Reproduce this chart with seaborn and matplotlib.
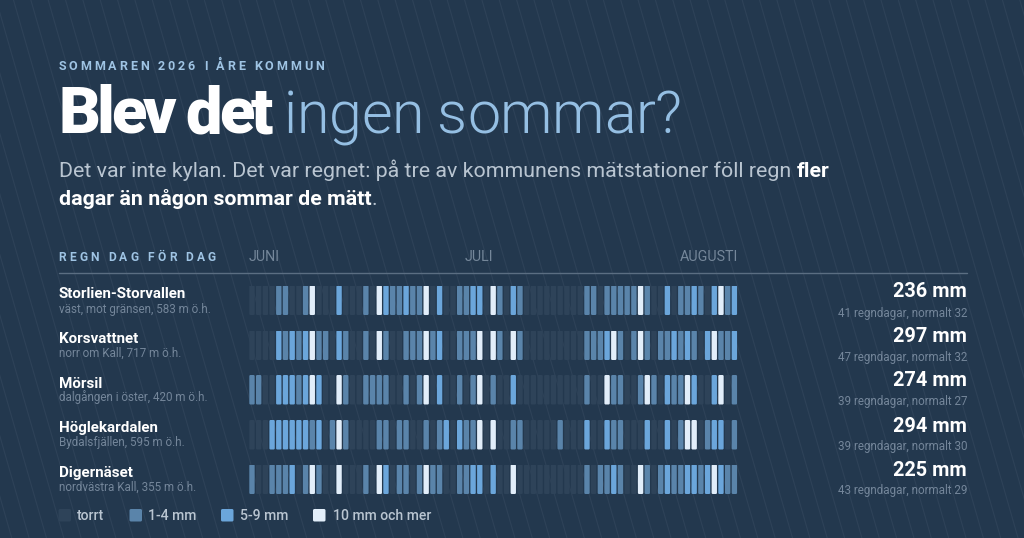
import seaborn as sns
import matplotlib.pyplot as plt
import pandas as pd
from matplotlib.patches import FancyBboxPatch

# regndagar per station, index = kolumn i rutnätet
stationer = ["Storlien-Storvallen", "Korsvattnet", "Mörsil", "Höglekardalen", "Digernäset"]
platser = ["väst, mot gränsen, 583 m ö.h.", "norr om Kall, 717 m ö.h.", "dalgången i öster, 420 m ö.h.",
           "Bydalsfjällen, 595 m ö.h.", "nordvästra Kall, 355 m ö.h."]
mm_totalt = [236, 297, 274, 294, 225]
regndagar = [41, 47, 39, 39, 43]
normalt = [32, 32, 27, 30, 29]
antal_dagar = 73

storlien_1_4 = [4, 5, 8, 17, 21, 22, 24, 25, 31, 32, 37, 40, 50, 51, 53, 54, 55, 56, 57, 59, 64, 65, 67, 71]
storlien_5_9 = [13, 20, 23, 28, 33, 34, 39, 62, 66, 69, 72]
storlien_10 = [9, 19, 26, 36, 58, 70]

korsvattnet_1_4 = [5, 7, 10, 11, 14, 17, 20, 23, 24, 25, 27, 31, 32, 33, 37, 40, 50, 51, 52, 55, 57, 59, 61, 62, 64, 66, 70, 71]
korsvattnet_5_9 = [4, 6, 8, 13, 28, 53, 63, 65, 68, 72]
korsvattnet_10 = [9, 19, 26, 34, 36, 39, 54, 58, 69]

morsil_1_4 = [0, 1, 7, 14, 17, 18, 19, 20, 23, 25, 31, 33, 36, 50, 54, 55, 58, 60, 63, 64, 72]
morsil_5_9 = [4, 5, 6, 8, 10, 28, 39, 62, 66, 69]
morsil_10 = [9, 13, 26, 34, 53, 59, 65, 70]

hoglekardalen_1_4 = [9, 12, 14, 19, 20, 22, 23, 26, 28, 32, 33, 39, 40, 46, 54, 55, 64, 68, 72]
hoglekardalen_5_9 = [3, 4, 5, 6, 7, 8, 10, 29, 31, 50, 53, 59, 62, 69, 70]
hoglekardalen_10 = [13, 34, 36, 65, 66]

digernaset_1_4 = [0, 3, 4, 5, 8, 10, 17, 22, 23, 25, 27, 28, 31, 32, 50, 52, 53, 55, 59, 61, 63, 64, 67, 71, 72]
digernaset_5_9 = [6, 20, 33, 34, 36, 54, 62, 65, 66, 68, 70]
digernaset_10 = [9, 13, 19, 26, 39, 58, 69]

regn = [
    (storlien_1_4, storlien_5_9, storlien_10),
    (korsvattnet_1_4, korsvattnet_5_9, korsvattnet_10),
    (morsil_1_4, morsil_5_9, morsil_10),
    (hoglekardalen_1_4, hoglekardalen_5_9, hoglekardalen_10),
    (digernaset_1_4, digernaset_5_9, digernaset_10),
]

klasser = ["torrt", "1-4 mm", "5-9 mm", "10 mm och mer"]
farger = ["#2e4359", "#5a84aa", "#6ba6db", "#e2eefa"]
palett = dict(zip(klasser, farger))

manader = ["JUNI", "JULI", "AUGUSTI"]
manad_x = [249, 465, 680]

BG = "#23384e"

sns.set_theme(style="white")
plt.rcParams["font.family"] = ["Roboto", "DejaVu Sans"]

fig = plt.figure(figsize=(10.24, 5.38), dpi=100, facecolor=BG)

# bakgrund i pixelkoordinater
bg = fig.add_axes([0, 0, 1, 1], zorder=0)
bg.set_xlim(0, 1024)
bg.set_ylim(538, 0)
bg.axis("off")
bg.set_facecolor(BG)

# de tunna diagonala linjerna
x = -160.0
while x < 1024:
    bg.plot([x, x + 538 * 0.287], [0, 538], color="#2e4258", lw=0.8, zorder=1)
    x += 17.35

renderer = fig.canvas.get_renderer()


def bredd(s, size, weight):
    t = bg.text(0, 0, s + "x", fontsize=size * 0.72, fontweight=weight)
    w = t.get_window_extent(renderer).width
    t.set_text("x")
    w -= t.get_window_extent(renderer).width
    t.remove()
    return w


def text(x, y, s, size, color, weight="normal", track=0, ha="left"):
    """skriver text på baslinjen y, med spärrning; returnerar x där texten slutar"""
    total = bredd(s, size, weight) + track * (len(s) - 1)
    if ha == "right":
        x = x - total
    if track == 0:
        bg.text(x, y, s, fontsize=size * 0.72, color=color, fontweight=weight, va="baseline", zorder=5)
    else:
        for i, c in enumerate(s):
            if c != " ":
                bg.text(x + bredd(s[:i], size, weight) + i * track, y, c, fontsize=size * 0.72,
                        color=color, fontweight=weight, va="baseline", zorder=5)
    return x + total


# rubriker
text(58.5, 70.5, "SOMMAREN 2026 I ÅRE KOMMUN", 12.5, "#9fc4e4", "bold", track=2.87)
slut = text(58, 133, "Blev det", 65, "white", 900, track=-3.45)
text(slut + 10.7, 133, "ingen sommar?", 59.2, "#95bfe3", 300, track=-0.4)

slut = text(59, 177, "Det var inte kylan. Det var regnet: på tre av kommunens mätstationer föll regn ", 21.4, "#b9c5d1")
text(slut, 177, "fler", 21.4, "white", "bold")
slut = text(59, 205, "dagar än någon sommar de mätt", 21.35, "white", "bold")
text(slut, 205, ".", 21.35, "#b9c5d1")

text(58.5, 261, "REGN DAG FÖR DAG", 12, "#9fc4e4", "bold", track=3.13)
for m, mx in zip(manader, manad_x):
    text(mx, 261, m, 14.2, "#75879a")
bg.plot([59, 967], [273, 273], color="#5b6e82", lw=1, zorder=3)

# en rad per station
rad_topp = [285.5, 330.5, 375, 420, 464.5]
rad_hojd = 29.5
namn_y = [298, 343, 387.5, 432, 476.5]
plats_y = [313, 357, 401.5, 446, 490.5]
mm_y = [297, 342.5, 386.5, 431.5, 475.5]
dagar_y = [317, 361, 405, 450, 494]
x0, steg = 249.3, 6.7
bar_w = 0.8

for i, namn in enumerate(stationer):
    klass = [0] * antal_dagar
    for k, dagar in enumerate(regn[i], start=1):
        for d in dagar:
            klass[d] = k
    df = pd.DataFrame({"dag": range(antal_dagar), "klass": [klasser[k] for k in klass], "h": 1})

    ax = fig.add_axes([x0 / 1024, 1 - (rad_topp[i] + rad_hojd) / 538,
                       antal_dagar * steg / 1024, rad_hojd / 538], zorder=2)
    sns.barplot(data=df, x="dag", y="h", hue="klass", hue_order=klasser, palette=palett,
                dodge=False, width=bar_w, saturation=1, legend=False, ax=ax)
    ax.set_xlim(-bar_w / 2, antal_dagar - bar_w / 2)
    ax.set_ylim(0, 1)
    ax.axis("off")
    ax.patch.set_alpha(0)

    # rundade hörn på staplarna
    for bar in list(ax.patches):
        if bar.get_height() != bar.get_height():
            bar.remove()
            continue
        ruta = FancyBboxPatch((bar.get_x(), 0), bar.get_width(), 1,
                              boxstyle="round,pad=0,rounding_size=0.18",
                              mutation_aspect=steg / rad_hojd,
                              fc=bar.get_facecolor(), ec="none")
        bar.remove()
        ax.add_patch(ruta)

    text(58.5, namn_y[i], namn, 15.1, "white", "bold")
    text(59, plats_y[i], platser[i], 11.6, "#74869a")
    text(967, mm_y[i], f"{mm_totalt[i]} mm", 19.9, "white", "bold", ha="right")
    text(967, dagar_y[i], f"{regndagar[i]} regndagar, normalt {normalt[i]}", 11.65, "#74869a", ha="right")

# teckenförklaring
swatch_x = [58.5, 129.5, 221, 313]
etikett_x = [77, 148, 240, 333]
for namn, sx, ex in zip(klasser, swatch_x, etikett_x):
    bg.add_patch(FancyBboxPatch((sx, 509), 12.5, 12.5, boxstyle="round,pad=0,rounding_size=1.5",
                                fc=palett[namn], ec="none", zorder=3))
    text(ex, 520.5, namn, 14, "#b9c5d1", 500)

fig.savefig("out.png", dpi=100, facecolor=BG)
